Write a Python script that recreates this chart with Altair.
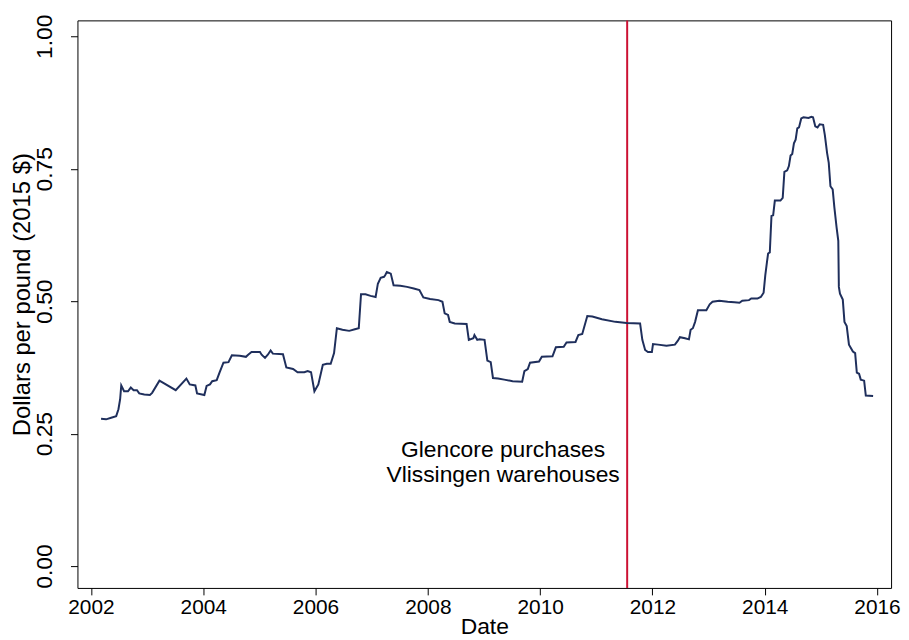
import altair as alt
import pandas as pd

# Decimal-year dates and aluminium premium (Dollars per pound, 2015 $)
dates = [
    2002.18, 2002.27, 2002.36, 2002.45, 2002.49, 2002.52, 2002.54, 2002.59, 2002.66, 2002.71,
    2002.76, 2002.82, 2002.86, 2002.95, 2003.05, 2003.09, 2003.22, 2003.51, 2003.70, 2003.76,
    2003.86, 2003.89, 2004.02, 2004.06, 2004.12, 2004.16, 2004.24, 2004.29, 2004.36, 2004.45,
    2004.51, 2004.65, 2004.76, 2004.80, 2004.86, 2005.01, 2005.04, 2005.10, 2005.15, 2005.20,
    2005.24, 2005.42, 2005.48, 2005.60, 2005.68, 2005.80, 2005.86, 2005.92, 2005.98, 2006.05,
    2006.13, 2006.20, 2006.27, 2006.33, 2006.38, 2006.48, 2006.60, 2006.70, 2006.77, 2006.81,
    2006.89, 2006.98, 2007.07, 2007.11, 2007.16, 2007.22, 2007.24, 2007.27, 2007.34, 2007.39,
    2007.51, 2007.63, 2007.75, 2007.85, 2007.92, 2008.04, 2008.19, 2008.26, 2008.30, 2008.36,
    2008.39, 2008.48, 2008.69, 2008.73, 2008.81, 2008.83, 2008.88, 2008.92, 2009.01, 2009.06,
    2009.12, 2009.16, 2009.25, 2009.36, 2009.51, 2009.68, 2009.72, 2009.78, 2009.82, 2009.98,
    2010.03, 2010.22, 2010.28, 2010.42, 2010.47, 2010.63, 2010.68, 2010.75, 2010.84, 2010.93,
    2011.10, 2011.34, 2011.54, 2011.78, 2011.82, 2011.87, 2011.92, 2011.99, 2012.01, 2012.10,
    2012.25, 2012.40, 2012.45, 2012.49, 2012.58, 2012.65, 2012.68, 2012.72, 2012.76, 2012.81,
    2012.96, 2013.02, 2013.07, 2013.19, 2013.34, 2013.46, 2013.55, 2013.60, 2013.72, 2013.76,
    2013.87, 2013.93, 2013.98, 2014.01, 2014.04, 2014.06, 2014.09, 2014.12, 2014.15, 2014.18,
    2014.28, 2014.32, 2014.35, 2014.40, 2014.43, 2014.46, 2014.49, 2014.52, 2014.55, 2014.58,
    2014.61, 2014.65, 2014.69, 2014.78, 2014.83, 2014.86, 2014.90, 2014.94, 2014.98, 2015.04,
    2015.07, 2015.11, 2015.14, 2015.17, 2015.21, 2015.24, 2015.28, 2015.31, 2015.32, 2015.34,
    2015.39, 2015.42, 2015.46, 2015.50, 2015.57, 2015.61, 2015.64, 2015.68, 2015.71, 2015.77,
    2015.80, 2015.93,
]
prices = [
    0.278, 0.277, 0.280, 0.283, 0.296, 0.315, 0.341, 0.330, 0.330, 0.337,
    0.332, 0.332, 0.326, 0.324, 0.323, 0.327, 0.350, 0.332, 0.354, 0.343,
    0.341, 0.326, 0.323, 0.340, 0.343, 0.349, 0.351, 0.365, 0.384, 0.385,
    0.398, 0.397, 0.395, 0.399, 0.404, 0.404, 0.399, 0.393, 0.399, 0.407,
    0.401, 0.400, 0.375, 0.372, 0.366, 0.366, 0.368, 0.366, 0.330, 0.343,
    0.380, 0.382, 0.382, 0.402, 0.449, 0.446, 0.444, 0.447, 0.449, 0.513,
    0.513, 0.510, 0.508, 0.533, 0.544, 0.546, 0.549, 0.555, 0.552, 0.530,
    0.529, 0.527, 0.524, 0.521, 0.507, 0.504, 0.502, 0.499, 0.477, 0.474,
    0.461, 0.458, 0.457, 0.427, 0.430, 0.436, 0.427, 0.428, 0.427, 0.388,
    0.385, 0.355, 0.354, 0.352, 0.349, 0.348, 0.368, 0.372, 0.384, 0.386,
    0.395, 0.396, 0.413, 0.414, 0.422, 0.423, 0.436, 0.438, 0.472, 0.471,
    0.466, 0.461, 0.459, 0.458, 0.427, 0.408, 0.404, 0.404, 0.419, 0.418,
    0.416, 0.418, 0.425, 0.432, 0.430, 0.428, 0.446, 0.449, 0.461, 0.483,
    0.483, 0.494, 0.499, 0.501, 0.499, 0.498, 0.497, 0.501, 0.502, 0.505,
    0.505, 0.508, 0.516, 0.549, 0.574, 0.590, 0.592, 0.661, 0.662, 0.690,
    0.690, 0.695, 0.744, 0.747, 0.755, 0.775, 0.778, 0.798, 0.805, 0.826,
    0.828, 0.845, 0.847, 0.846, 0.848, 0.847, 0.830, 0.828, 0.834, 0.833,
    0.814, 0.780, 0.761, 0.717, 0.711, 0.677, 0.639, 0.614, 0.527, 0.514,
    0.503, 0.461, 0.453, 0.418, 0.405, 0.402, 0.365, 0.363, 0.352, 0.350,
    0.322, 0.321,
]

event_date = [2011.55]
note_text = ["Glencore purchases\nVlissingen warehouses"]
note_x = [2009.34]
note_y = [0.219]

x_ticks = [2002, 2004, 2006, 2008, 2010, 2012, 2014, 2016]
y_ticks = [0.0, 0.25, 0.5, 0.75, 1.0]

df = pd.DataFrame({"Date": dates, "Price": prices})
ev = pd.DataFrame({"Date": event_date})
notes = pd.DataFrame({"x": note_x, "y": note_y, "t": note_text})

xscale = alt.Scale(domain=[2001.76, 2016.25], nice=False, zero=False)
yscale = alt.Scale(domain=[-0.0412, 1.03], nice=False, zero=False)

FONT = "Liberation Sans, Arial, Helvetica, sans-serif"

xaxis = alt.Axis(
    values=x_ticks, format="d", grid=False, domain=False,
    tickSize=7, tickColor="black", tickWidth=1,
    labelFont=FONT, labelFontSize=21, labelColor="black",
    labelPadding=2, labelFlush=False,
    title="Date", titleFont=FONT, titleFontSize=23,
    titleFontWeight="normal", titleColor="black",
    titleBaseline="alphabetic", titleY=46,
)
yaxis = alt.Axis(
    values=y_ticks, format=".2f", grid=False, domain=False,
    tickSize=7, tickColor="black", tickWidth=1,
    labelFont=FONT, labelFontSize=23, labelColor="black",
    labelAngle=270, labelAlign="center", labelBaseline="bottom",
    labelPadding=14, labelFlush=False,
    title="Dollars per pound (2015 $)", titleFont=FONT,
    titleFontSize=24, titleFontWeight="normal", titleColor="black",
    titleAngle=270, titleAlign="center", titleBaseline="middle",
    titleX=-55, titleY=276,
)

line = alt.Chart(df).mark_line(color="#1f2f5c", strokeWidth=2, interpolate="linear").encode(
    x=alt.X("Date:Q", scale=xscale, axis=xaxis),
    y=alt.Y("Price:Q", scale=yscale, axis=yaxis),
)

rule = alt.Chart(ev).mark_rule(color="#cc1133", strokeWidth=2).encode(
    x=alt.X("Date:Q", scale=xscale),
)

text = alt.Chart(notes).mark_text(
    font=FONT, fontSize=23, color="black", align="center", baseline="middle",
    lineBreak="\n", lineHeight=25,
).encode(
    x=alt.X("x:Q", scale=xscale),
    y=alt.Y("y:Q", scale=yscale),
    text="t:N",
)

chart = alt.layer(rule, line, text).properties(
    width=820, height=572,
    autosize=alt.AutoSizeParams(type="none"),
    padding={"left": 70, "top": 10, "right": 10, "bottom": 50},
    background="white",
).configure_view(stroke="black", strokeWidth=1)

chart.save("out.html", embed_options={"renderer": "svg", "actions": False})
